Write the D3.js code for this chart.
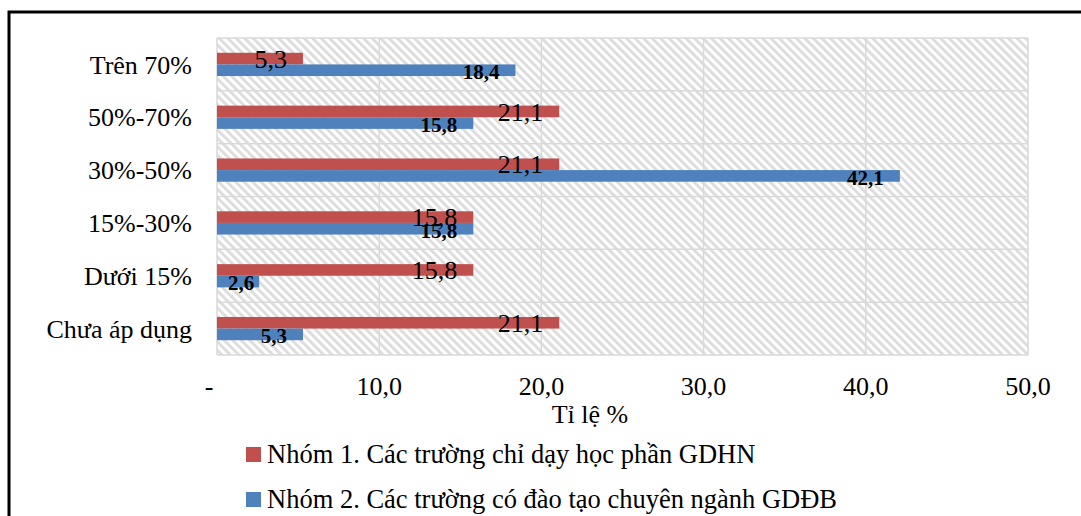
<!DOCTYPE html>
<html>
<head>
<meta charset="utf-8">
<script src="https://cdn.jsdelivr.net/npm/d3@7"></script>
<style>
  body { margin: 0; background: #fff; }
  text { font-family: "Liberation Serif", "Times New Roman", serif; fill: #000; }
</style>
</head>
<body>
<div id="chart"></div>
<script>
// categories top to bottom, as in the picture
const categories = ["Trên 70%", "50%-70%", "30%-50%", "15%-30%", "Dưới 15%", "Chưa áp dụng"];
const seriesNames = [
  "Nhóm 1. Các trường chỉ dạy học phần GDHN",
  "Nhóm 2. Các trường có đào tạo chuyên ngành GDĐB"
];
const group1 = [5.3, 21.1, 21.1, 15.8, 15.8, 21.1];
const group2 = [18.4, 15.8, 42.1, 15.8, 2.6, 5.3];
const xTicks = [0, 10, 20, 30, 40, 50];
const axisTitle = "Tỉ lệ %";

const colors = ["#c0504d", "#4f81bd"];
const fmt = v => v === 0 ? "-" : d3.format(".1f")(v).replace(".", ",");

const width = 1081, height = 516;
const margin = { top: 38, left: 217, right: 53, bottom: 161 };
const plotW = width - margin.left - margin.right;
const plotH = height - margin.top - margin.bottom;

const svg = d3.select("#chart").append("svg")
  .attr("width", width)
  .attr("height", height);

// hatched plot background
const defs = svg.append("defs");
const pat = defs.append("pattern")
  .attr("id", "hatch")
  .attr("patternUnits", "userSpaceOnUse")
  .attr("width", 6)
  .attr("height", 6)
  .attr("patternTransform", "rotate(-45)");
pat.append("rect").attr("width", 6).attr("height", 6).attr("fill", "#fff");
pat.append("rect").attr("width", 2.8).attr("height", 6).attr("fill", "#dcdcdc");

// outer frame (only top and left visible in the crop)
svg.append("path")
  .attr("d", "M9,530 L9,12 L1100,12")
  .attr("fill", "none")
  .attr("stroke", "#000")
  .attr("stroke-width", 3);

const g = svg.append("g").attr("transform", `translate(${margin.left},${margin.top})`);

const x = d3.scaleLinear().domain([0, 50]).range([0, plotW]);
const y0 = d3.scaleBand().domain(categories).range([0, plotH]).paddingInner(0.56).paddingOuter(0.28);
const y1 = d3.scaleBand().domain([0, 1]).range([0, y0.bandwidth()]);
const step = y0.step();

g.append("rect")
  .attr("width", plotW)
  .attr("height", plotH)
  .attr("fill", "url(#hatch)");

// grid lines
g.selectAll(".vgrid")
  .data(xTicks)
  .enter()
  .append("line")
  .attr("x1", d => x(d)).attr("x2", d => x(d))
  .attr("y1", 0).attr("y2", plotH)
  .attr("stroke", "#d9d9d9")
  .attr("stroke-width", 1.5);

g.selectAll(".hgrid")
  .data(d3.range(categories.length + 1))
  .enter()
  .append("line")
  .attr("x1", 0).attr("x2", plotW)
  .attr("y1", d => d * step).attr("y2", d => d * step)
  .attr("stroke", "#d9d9d9")
  .attr("stroke-width", 1.5);

// bars
const rows = categories.map((c, i) => ({ cat: c, vals: [group1[i], group2[i]] }));
const barGroups = g.selectAll(".row")
  .data(rows)
  .enter()
  .append("g")
  .attr("transform", d => `translate(0,${y0(d.cat)})`);

barGroups.selectAll("rect")
  .data(d => d.vals.map((v, s) => ({ v, s })))
  .enter()
  .append("rect")
  .attr("x", 0)
  .attr("y", d => y1(d.s))
  .attr("width", d => x(d.v))
  .attr("height", y1.bandwidth())
  .attr("fill", d => colors[d.s]);

// data labels, inside end of each bar
barGroups.selectAll(".lbl")
  .data(d => d.vals.map((v, s) => ({ v, s })))
  .enter()
  .append("text")
  .attr("class", "lbl")
  .attr("text-anchor", "end")
  .attr("y", d => y1(d.s) + y1.bandwidth() / 2)
  .attr("dy", d => d.s === 0 ? "0.35em" : "0.42em")
  .style("font-size", d => d.s === 0 ? "26px" : "21px")
  .style("font-weight", d => d.s === 0 ? "normal" : "bold")
  .text(d => fmt(d.v))
  .attr("x", function (d) {
    const w = this.getComputedTextLength();
    return Math.max(x(d.v) - 16, 11 + w);
  });

// y axis labels
g.selectAll(".ylab")
  .data(categories)
  .enter()
  .append("text")
  .attr("x", -25)
  .attr("y", d => y0(d) + y0.bandwidth() / 2)
  .attr("dy", "0.35em")
  .attr("text-anchor", "end")
  .style("font-size", "26px")
  .text(d => d);

// x axis labels
g.selectAll(".xlab")
  .data(xTicks)
  .enter()
  .append("text")
  .attr("x", d => d === 0 ? x(d) - 8 : x(d))
  .attr("y", plotH + 40)
  .attr("text-anchor", "middle")
  .style("font-size", "26px")
  .text(d => fmt(d));

svg.append("text")
  .attr("x", 590)
  .attr("y", 423)
  .attr("text-anchor", "middle")
  .style("font-size", "26px")
  .text(axisTitle);

// legend
const legend = svg.append("g").attr("transform", "translate(246,447)");
const items = legend.selectAll("g")
  .data(seriesNames)
  .enter()
  .append("g")
  .attr("transform", (d, i) => `translate(0,${i * 45})`);
items.append("rect")
  .attr("width", 15)
  .attr("height", 15)
  .attr("fill", (d, i) => colors[i]);
items.append("text")
  .attr("x", 21)
  .attr("y", 16)
  .style("font-size", "26.5px")
  .text(d => d);
</script>
</body>
</html>
